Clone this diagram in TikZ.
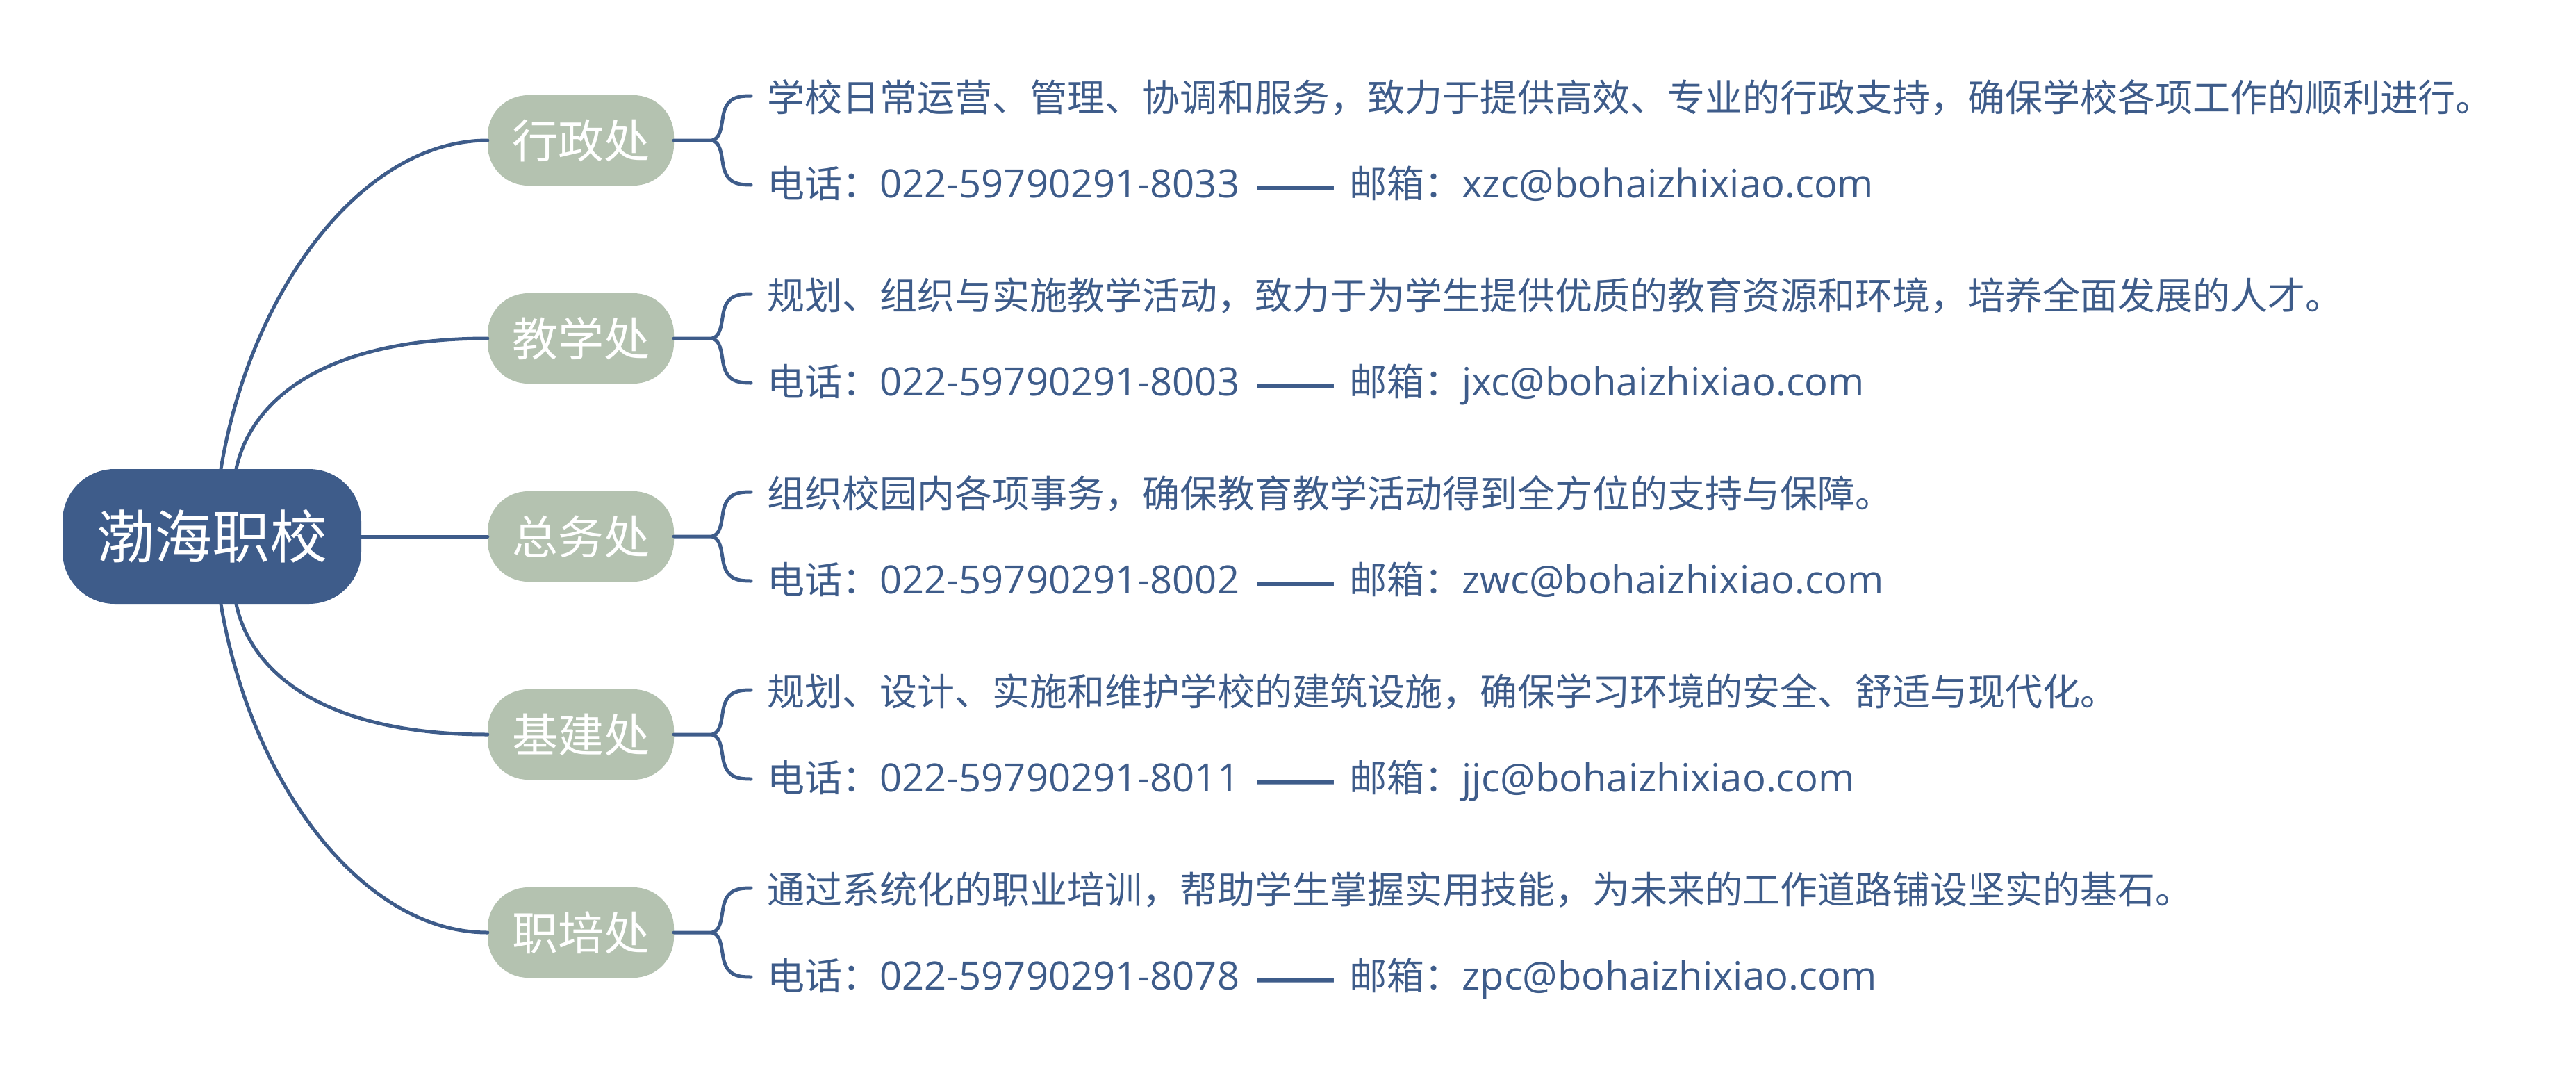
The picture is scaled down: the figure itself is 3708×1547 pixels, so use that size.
\documentclass[tikz,border=0pt]{standalone}
\usepackage{fontspec}
\usepackage{graphicx}
\setmainfont{Open Sans}[Scale=1.04]
\newfontfamily\cjk{Noto Sans CJK SC}
\definecolor{mmblue}{RGB}{62,92,138}
\definecolor{mmsage}{RGB}{180,194,176}
\tikzset{
  conn/.style={draw=mmblue, line width=5pt, line cap=round},
  rootbox/.style={fill=mmblue, rounded corners=75pt, minimum width=430pt, minimum height=194pt, inner sep=0pt, text=white, font=\cjk\fontsize{83}{90}\selectfont},
  branchbox/.style={fill=mmsage, rounded corners=58pt, minimum width=268pt, minimum height=130pt, inner sep=0pt, text=white, font=\cjk\fontsize{66}{72}\selectfont},
  leaf/.style={anchor=base west, inner sep=0pt, text=mmblue, font=\fontsize{54}{60}\selectfont},
}
\newcommand{\mmbranch}[5]{%
  \node[branchbox] (#1) at (836,#2) {#3};
  \coordinate (#1m) at (1025,#2);
  \coordinate (#1t) at (1081,{#2-64});
  \coordinate (#1d) at (1081,{#2+64});
  \draw[conn] (#1.east) -- (#1m) .. controls (1037,{#2-3}) and (1038,{#2-18}) .. (1041,{#2-36}) .. controls (1046,{#2-62}) and (1062,{#2-64}) .. (#1t);
  \draw[conn] (#1m) .. controls (1037,{#2+3}) and (1038,{#2+18}) .. (1041,{#2+36}) .. controls (1046,{#2+62}) and (1062,{#2+64}) .. (#1d);
  \node[leaf] (#1a) at (1104,{#2-42}) {{\cjk #4}};
  \node[leaf] (#1b) at (1104,{#2+82}) {{\cjk 电话：}022-59790291-#5};
}
\newcommand{\mmmail}[1]{\hspace{22pt}\raisebox{-3pt}{\scalebox{1.2}[1]{\cjk\bfseries\fontsize{57}{60}\selectfont ——}}\hspace{19pt}{\cjk 邮箱：}#1}
\begin{document}
\begin{tikzpicture}[x=1pt,y=-1pt]
\useasboundingbox (0,0) rectangle (3708,1547);
\node[rootbox] (root) at (305,772) {渤海职校};
\mmbranch{b1}{202}{行政处}{学校日常运营、管理、协调和服务，致力于提供高效、专业的行政支持，确保学校各项工作的顺利进行。}{8033\mmmail{xzc@bohaizhixiao.com}}
\mmbranch{b2}{487}{教学处}{规划、组织与实施教学活动，致力于为学生提供优质的教育资源和环境，培养全面发展的人才。}{8003\mmmail{jxc@bohaizhixiao.com}}
\mmbranch{b3}{772}{总务处}{组织校园内各项事务，确保教育教学活动得到全方位的支持与保障。}{8002\mmmail{zwc@bohaizhixiao.com}}
\mmbranch{b4}{1057}{基建处}{规划、设计、实施和维护学校的建筑设施，确保学习环境的安全、舒适与现代化。}{8011\mmmail{jjc@bohaizhixiao.com}}
\mmbranch{b5}{1342}{职培处}{通过系统化的职业培训，帮助学生掌握实用技能，为未来的工作道路铺设坚实的基石。}{8078\mmmail{zpc@bohaizhixiao.com}}
\draw[conn] ([xshift=13pt]root.north) .. controls (360,420) and (520,202) .. (b1.west);
\draw[conn] ([xshift=35pt]root.north) .. controls (360,580) and (460,487) .. (b2.west);
\draw[conn] (root.east) -- (b3.west);
\draw[conn] ([xshift=35pt]root.south) .. controls (360,964) and (460,1057) .. (b4.west);
\draw[conn] ([xshift=13pt]root.south) .. controls (360,1124) and (520,1342) .. (b5.west);
\end{tikzpicture}
\end{document}
